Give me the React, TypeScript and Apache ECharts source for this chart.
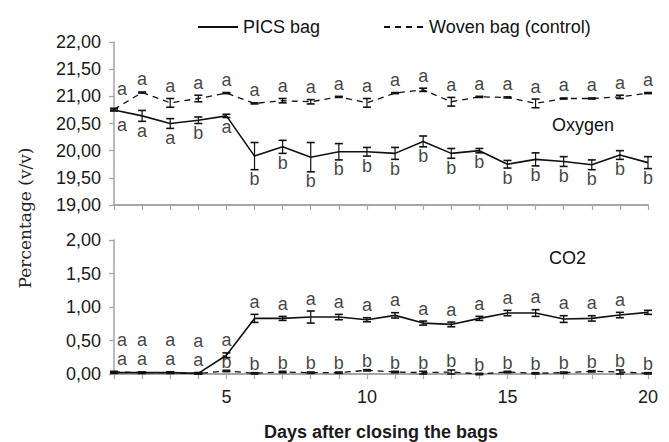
import React, { useEffect, useRef } from "react";
import * as echarts from "echarts";

const days = [1, 2, 3, 4, 5, 6, 7, 8, 9, 10, 11, 12, 13, 14, 15, 16, 17, 18, 19, 20];

const o2Pics = [20.75, 20.64, 20.5, 20.56, 20.64, 19.9, 20.07, 19.88, 19.98, 19.98, 19.95, 20.17, 19.95, 20.0, 19.75, 19.84, 19.8, 19.74, 19.92, 19.78];
const o2PicsErr = [0.02, 0.1, 0.09, 0.06, 0.03, 0.25, 0.12, 0.27, 0.15, 0.08, 0.11, 0.1, 0.09, 0.04, 0.07, 0.12, 0.09, 0.09, 0.08, 0.11];
const o2Woven = [20.76, 21.07, 20.88, 20.96, 21.06, 20.87, 20.92, 20.9, 20.99, 20.88, 21.06, 21.12, 20.9, 20.99, 20.98, 20.87, 20.96, 20.96, 20.99, 21.06];
const o2WovenErr = [0.02, 0.01, 0.08, 0.06, 0.01, 0.01, 0.04, 0.04, 0.01, 0.08, 0.01, 0.03, 0.08, 0.01, 0.01, 0.08, 0.01, 0.01, 0.03, 0.01];
const o2PicsLetters = ["a", "a", "a", "b", "a", "b", "b", "b", "b", "b", "b", "b", "b", "b", "b", "b", "b", "b", "b", "b"];
const o2WovenLetters = ["a", "a", "a", "a", "a", "a", "a", "a", "a", "a", "a", "a", "a", "a", "a", "a", "a", "a", "a", "a"];

const co2Pics = [0.02, 0.02, 0.02, 0.01, 0.28, 0.83, 0.83, 0.85, 0.85, 0.81, 0.875, 0.76, 0.74, 0.83, 0.91, 0.91, 0.82, 0.83, 0.88, 0.92];
const co2PicsErr = [0.01, 0.01, 0.01, 0.01, 0.035, 0.06, 0.03, 0.09, 0.04, 0.03, 0.04, 0.03, 0.035, 0.03, 0.04, 0.05, 0.05, 0.04, 0.04, 0.03];
const co2Woven = [0.03, 0.02, 0.02, 0.01, 0.045, 0.01, 0.03, 0.02, 0.02, 0.055, 0.03, 0.02, 0.03, 0.0, 0.03, 0.01, 0.02, 0.04, 0.03, 0.01];
const co2WovenErr = [0.01, 0.01, 0.01, 0.01, 0.01, 0.01, 0.01, 0.01, 0.01, 0.01, 0.01, 0.02, 0.03, 0.01, 0.01, 0.01, 0.01, 0.01, 0.03, 0.01];
const co2PicsLetters = ["a", "a", "a", "a", "a", "a", "a", "a", "a", "a", "a", "a", "a", "a", "a", "a", "a", "a", "a", ""];
const co2WovenLetters = ["a", "a", "a", "a", "b", "b", "b", "b", "b", "b", "b", "b", "b", "b", "b", "b", "b", "b", "b", "b"];

const o2TickMin = 19;
const o2TickMax = 22;
const co2TickMin = 0;
const co2TickMax = 2;
const tickStep = 0.5;

const SANS = "Liberation Sans, Arial, sans-serif";

function errorSeries(grid: number, vals: number[], errs: number[]) {
  return {
    type: "custom",
    xAxisIndex: grid,
    yAxisIndex: grid,
    silent: true,
    z: 4,
    data: days.map((d, i) => [d, vals[i] - errs[i], vals[i] + errs[i]]),
    encode: { x: 0, y: [1, 2] },
    renderItem: (params: any, api: any) => {
      const x = api.value(0);
      const lo = api.coord([x, api.value(1)]);
      const hi = api.coord([x, api.value(2)]);
      const w = 4;
      const st = { stroke: "#111", lineWidth: 1.2 };
      const cap = { stroke: "#111", lineWidth: 1.6 };
      return {
        type: "group",
        children: [
          { type: "line", shape: { x1: lo[0], y1: lo[1], x2: hi[0], y2: hi[1] }, style: st },
          { type: "line", shape: { x1: lo[0] - w, y1: lo[1], x2: lo[0] + w, y2: lo[1] }, style: cap },
          { type: "line", shape: { x1: hi[0] - w, y1: hi[1], x2: hi[0] + w, y2: hi[1] }, style: cap },
        ],
      };
    },
  };
}

function letterSeries(
  grid: number,
  vals: number[],
  errs: number[],
  letters: string[],
  above: boolean,
  extra: (i: number) => number
) {
  return {
    type: "scatter",
    xAxisIndex: grid,
    yAxisIndex: grid,
    silent: true,
    symbolSize: 1,
    z: 5,
    itemStyle: { color: "rgba(0,0,0,0)" },
    data: days.map((d, i) => {
      const base = above ? (letters[i] === "b" ? 1 : 5) : 2;
      return {
        value: [d, above ? vals[i] + errs[i] : vals[i] - errs[i]],
        label: {
          distance: base + extra(i),
          offset: [i === 0 ? 8 : 0, 0],
        },
      };
    }),
    label: {
      show: true,
      position: above ? "top" : "bottom",
      formatter: (p: any) => letters[p.dataIndex],
      fontSize: 18,
      lineHeight: 14,
      fontFamily: SANS,
      color: "#111",
    },
  };
}

function lineSeries(grid: number, name: string, vals: number[], dashed: boolean) {
  return {
    type: "line",
    name,
    xAxisIndex: grid,
    yAxisIndex: grid,
    data: days.map((d, i) => [d, vals[i]]),
    showSymbol: false,
    symbol: "none",
    z: 3,
    lineStyle: dashed
      ? { color: "#111", width: 1.3, type: [6, 5] }
      : { color: "#111", width: 1.6, type: "solid" },
    itemStyle: { color: "#111" },
  };
}

const fmt = (v: number) => v.toFixed(2).replace(".", ",");

export default function App() {
  const ref = useRef<HTMLDivElement>(null);
  useEffect(() => {
    if (!ref.current) return;
    const chart = echarts.init(ref.current, null, { renderer: "svg" });

    const o2Close = (i: number) => Math.abs(o2Pics[i] - o2Woven[i]) < 0.1;
    const co2Stack = (i: number) =>
      co2PicsLetters[i] !== "" && co2WovenLetters[i] !== "" && Math.abs(co2Pics[i] - co2Woven[i]) < 0.05;

    const xAxisCommon = {
      type: "value",
      min: days[0],
      max: days[days.length - 1],
      interval: 1,
      axisLine: { lineStyle: { color: "#a6a6a6", width: 2 } },
      axisTick: { show: true, inside: false, length: 5, lineStyle: { color: "#a6a6a6", width: 1.2 } },
      splitLine: { show: false },
    };
    const yAxisCommon = {
      type: "value",
      interval: tickStep,
      axisLine: { show: true, lineStyle: { color: "#a6a6a6", width: 1.5 } },
      axisTick: { show: true, length: 5, lineStyle: { color: "#a6a6a6", width: 1.2 } },
      splitLine: { show: false },
      axisLabel: { fontSize: 18, fontFamily: SANS, color: "#1a1a1a", margin: 13, formatter: fmt },
    };

    const option: any = {
      animation: false,
      backgroundColor: "#fff",
      legend: {
        left: 192,
        top: 13,
        itemWidth: 40,
        itemHeight: 14,
        itemGap: 63,
        itemStyle: { opacity: 0 },
        textStyle: { fontSize: 18, fontFamily: SANS, color: "#111" },
        data: ["PICS bag", "Woven bag (control)"],
      },
      grid: [
        { left: 114, top: 42, width: 534, height: 163 },
        { left: 114, top: 240, width: 534, height: 144 },
      ],
      xAxis: [
        { ...xAxisCommon, gridIndex: 0, axisLabel: { show: false } },
        {
          ...xAxisCommon,
          gridIndex: 1,
          axisLabel: {
            show: true,
            fontSize: 18,
            fontFamily: SANS,
            color: "#1a1a1a",
            margin: 14,
            formatter: (v: number) => (v % 5 === 0 ? String(v) : ""),
          },
          name: "Days after closing the bags",
          nameLocation: "middle",
          nameGap: 49,
          nameTextStyle: { fontSize: 18, fontWeight: "bold", fontFamily: SANS, color: "#1a1a1a" },
        },
      ],
      yAxis: [
        { ...yAxisCommon, gridIndex: 0, min: o2TickMin, max: o2TickMax },
        { ...yAxisCommon, gridIndex: 1, min: co2TickMin, max: co2TickMax },
      ],
      graphic: [
        {
          type: "text",
          x: 25,
          y: 218,
          rotation: Math.PI / 2,
          style: {
            text: "Percentage (v/v)",
            font: "17px 'DejaVu Serif', serif",
            fill: "#222",
            textAlign: "center",
            textVerticalAlign: "middle",
          },
        },
        {
          type: "text",
          x: 552,
          y: 125,
          style: { text: "Oxygen", font: `18px ${SANS}`, fill: "#111", textAlign: "left", textVerticalAlign: "middle" },
        },
        {
          type: "text",
          x: 549,
          y: 258,
          style: { text: "CO2", font: `18px ${SANS}`, fill: "#111", textAlign: "left", textVerticalAlign: "middle" },
        },
      ],
      series: [
        lineSeries(0, "PICS bag", o2Pics, false),
        lineSeries(0, "Woven bag (control)", o2Woven, true),
        lineSeries(1, "PICS bag", co2Pics, false),
        lineSeries(1, "Woven bag (control)", co2Woven, true),
        errorSeries(0, o2Pics, o2PicsErr),
        errorSeries(0, o2Woven, o2WovenErr),
        errorSeries(1, co2Pics, co2PicsErr),
        errorSeries(1, co2Woven, co2WovenErr),
        letterSeries(0, o2Pics, o2PicsErr, o2PicsLetters, false, (i) => (o2Close(i) ? 4 : 0)),
        letterSeries(0, o2Woven, o2WovenErr, o2WovenLetters, true, (i) => (o2Close(i) ? 7 : 0)),
        letterSeries(1, co2Pics, co2PicsErr, co2PicsLetters, true, (i) => (co2Stack(i) ? 19 : 0)),
        letterSeries(1, co2Woven, co2WovenErr, co2WovenLetters, true, () => 0),
      ],
    };
    chart.setOption(option);
    return () => chart.dispose();
  }, []);
  return <div ref={ref} style={{ position: "fixed", left: 0, top: 0, width: 669, height: 442 }} />;
}
